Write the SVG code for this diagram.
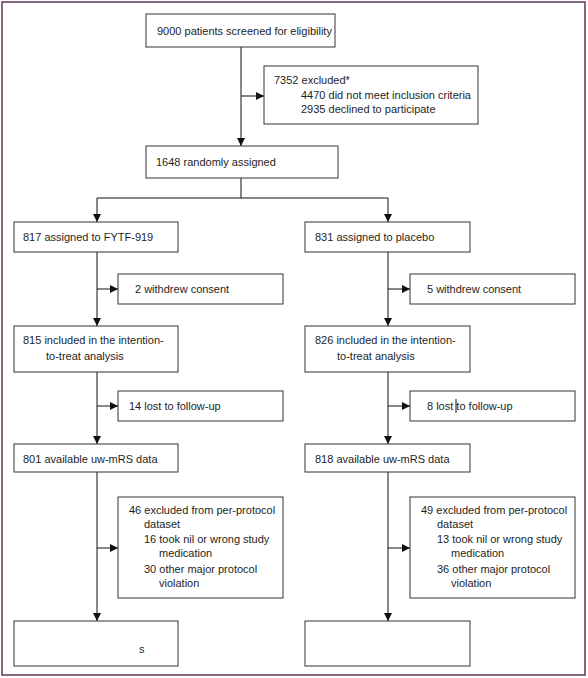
<svg xmlns="http://www.w3.org/2000/svg" width="588" height="678" viewBox="0 0 588 678">
<style>
.box{fill:#fff;stroke:#333;stroke-width:1}
.t{font-family:"Liberation Sans",Arial,sans-serif;font-size:11px;fill:#1e1e1e}
.ln{stroke:#111;stroke-width:1;fill:none}
</style>
<defs>
<marker id="ah" viewBox="0 0 10 10" refX="10" refY="5" markerWidth="8" markerHeight="8" markerUnits="userSpaceOnUse" orient="auto">
<path d="M0,0 L10,5 L0,10 z" fill="#111"/>
</marker>
</defs>
<rect x="0" y="0" width="588" height="678" fill="#fff"/>
<rect x="2" y="2" width="583" height="673" fill="none" stroke="#5e3455" stroke-width="1.5"/>
<g id="connectors">
<path class="ln" d="M241,47 V146" marker-end="url(#ah)"/>
<path class="ln" d="M241,96 H264" marker-end="url(#ah)"/>
<path class="ln" d="M241,178 V198 M97,198 H388"/>
<path class="ln" d="M97,198 V222" marker-end="url(#ah)"/>
<path class="ln" d="M388,198 V222" marker-end="url(#ah)"/>
<path class="ln" d="M97,252 V326" marker-end="url(#ah)"/>
<path class="ln" d="M97,289 H118" marker-end="url(#ah)"/>
<path class="ln" d="M388,252 V326" marker-end="url(#ah)"/>
<path class="ln" d="M388,289 H410" marker-end="url(#ah)"/>
<path class="ln" d="M97,372 V444" marker-end="url(#ah)"/>
<path class="ln" d="M97,406 H118" marker-end="url(#ah)"/>
<path class="ln" d="M388,372 V444" marker-end="url(#ah)"/>
<path class="ln" d="M388,406 H410" marker-end="url(#ah)"/>
<path class="ln" d="M97,472 V621" marker-end="url(#ah)"/>
<path class="ln" d="M97,548 H118" marker-end="url(#ah)"/>
<path class="ln" d="M388,472 V621" marker-end="url(#ah)"/>
<path class="ln" d="M388,548 H410" marker-end="url(#ah)"/>
</g>
<g id="screened"><rect class="box" x="146" y="14" width="189" height="33"/><text class="t" x="157" y="35">9000 patients screened for eligibility</text></g>
<g id="excluded"><rect class="box" x="264" y="66" width="214" height="58"/>
<text class="t" x="274" y="84">7352 excluded*</text>
<text class="t" x="301" y="99">4470 did not meet inclusion criteria</text>
<text class="t" x="301" y="113">2935 declined to participate</text></g>
<g id="randomised"><rect class="box" x="146" y="146" width="192" height="32"/><text class="t" x="156" y="166">1648 randomly assigned</text></g>
<g id="fytf"><rect class="box" x="14" y="222" width="164" height="30"/><text class="t" x="23" y="241">817 assigned to FYTF-919</text></g>
<g id="placebo"><rect class="box" x="305" y="222" width="165" height="30"/><text class="t" x="315" y="241">831 assigned to placebo</text></g>
<g id="withdrewL"><rect class="box" x="118" y="274" width="165" height="30"/><text class="t" x="135" y="293">2 withdrew consent</text></g>
<g id="withdrewR"><rect class="box" x="410" y="274" width="165" height="30"/><text class="t" x="427" y="293">5 withdrew consent</text></g>
<g id="ittL"><rect class="box" x="14" y="326" width="164" height="46"/><text class="t" x="23" y="344">815 included in the intention-</text><text class="t" x="46" y="360">to-treat analysis</text></g>
<g id="ittR"><rect class="box" x="305" y="326" width="165" height="46"/><text class="t" x="315" y="344">826 included in the intention-</text><text class="t" x="337" y="360">to-treat analysis</text></g>
<g id="lostL"><rect class="box" x="118" y="391" width="165" height="30"/><text class="t" x="129" y="410">14 lost to follow-up</text></g>
<g id="lostR"><rect class="box" x="410" y="391" width="165" height="30"/><text class="t" x="427" y="410">8 lost to follow-up</text><line x1="456" y1="399" x2="456" y2="413" stroke="#111" stroke-width="1"/></g>
<g id="mrsL"><rect class="box" x="14" y="444" width="164" height="28"/><text class="t" x="23" y="463">801 available uw-mRS data</text></g>
<g id="mrsR"><rect class="box" x="305" y="444" width="165" height="28"/><text class="t" x="315" y="463">818 available uw-mRS data</text></g>
<g id="ppL"><rect class="box" x="118" y="497" width="165" height="101"/>
<text class="t" x="129" y="514">46 excluded from per-protocol</text>
<text class="t" x="144" y="528">dataset</text>
<text class="t" x="144" y="543">16 took nil or wrong study</text>
<text class="t" x="159" y="557">medication</text>
<text class="t" x="144" y="573">30 other major protocol</text>
<text class="t" x="159" y="587">violation</text></g>
<g id="ppR"><rect class="box" x="410" y="497" width="165" height="101"/>
<text class="t" x="421" y="514">49 excluded from per-protocol</text>
<text class="t" x="437" y="528">dataset</text>
<text class="t" x="437" y="543">13 took nil or wrong study</text>
<text class="t" x="451" y="557">medication</text>
<text class="t" x="437" y="573">36 other major protocol</text>
<text class="t" x="451" y="587">violation</text></g>
<g id="finalL"><rect class="box" x="14" y="621" width="164" height="45"/><text class="t" x="139" y="653">s</text></g>
<g id="finalR"><rect class="box" x="305" y="621" width="165" height="45"/></g>
</svg>
